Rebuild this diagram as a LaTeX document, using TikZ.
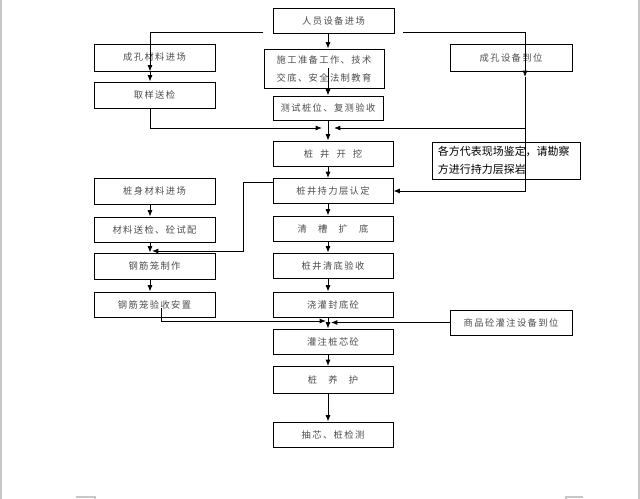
\documentclass[tikz,border=0pt]{standalone}
\usepackage{fontspec}
\newfontfamily\cjk[LetterSpace=15]{Noto Sans CJK SC}
\newfontfamily\cjkplain{Noto Sans CJK SC}
\usetikzlibrary{arrows.meta,calc}

\begin{document}
\begin{tikzpicture}[x=0.025cm, y=-0.025cm,
  box/.style={draw, line width=0.65pt, minimum width=3cm, minimum height=0.625cm,
    inner sep=0pt, font=\cjk\fontsize{6.6}{12.8}\selectfont, text=black!70},
  flow/.style={line width=0.55pt, -{Latex[length=4.5pt,width=3.5pt]}},
  link/.style={line width=0.55pt},
  pageedge/.style={black!22, line width=0.8pt}]

% --- Parameters (pixel grid of the page) ---
\def\xl{150}   % left column line
\def\xm{328}   % main column line
\def\xr{525}   % right column line

\useasboundingbox (0,0) rectangle (640,499);

% --- Page edges ---
\draw[pageedge] (1,0) -- (1,499);
\draw[pageedge] (639,0) -- (639,499);
\draw[pageedge] (76,497) -- (95,497) -- (95,499);
\draw[pageedge] (583,497) -- (566,497) -- (566,499);

% --- Main column ---
\node[box, minimum width=3.025cm] (top) at (333.5,20.5) {人员设备进场};
\node[box, minimum height=0.975cm, align=center] (prep) at (324,68.5)
  {施工准备工作、技术\\交底、安全法制教育};
\node[box, minimum width=2.75cm, minimum height=0.6cm] (ceshi) at (328,108) {测试桩位、复测验收};
\node[box] (kaiwa)   at (333,153.5) {桩\hspace{5pt}井\hspace{5pt}开\hspace{5pt}挖};
\node[box] (chili)   at (333,191)   {桩井持力层认定};
\node[box] (qingcao) at (333,228.5) {清\hspace{8pt}槽\hspace{8pt}扩\hspace{8pt}底};
\node[box] (yanshou) at (333,265.5) {桩井清底验收};
\node[box] (fengdi)  at (333,304.5) {浇灌封底砼};
\node[box] (guanzhu) at (333,341.5) {灌注桩芯砼};
\node[box, minimum height=0.675cm] (yanghu) at (333,380) {桩\hspace{8pt}养\hspace{8pt}护};
\node[box] (jiance)  at (333,434.5) {抽芯、桩检测};

% --- Left column ---
\node[box, minimum width=3.025cm, minimum height=0.675cm] (cl1) at (154.5,57.5) {成孔材料进场};
\node[box, minimum width=3.025cm, minimum height=0.65cm]  (qy)  at (154.5,95)   {取样送检};
\node[box, minimum width=3.025cm, minimum height=0.65cm]  (zs)  at (154.5,191)  {桩身材料进场};
\node[box, minimum width=3.025cm] (sj) at (154.5,229.5) {材料送检、砼试配};
\node[box, minimum width=3.025cm, minimum height=0.65cm]  (gj)  at (154.5,266)  {钢筋笼制作};
\node[box, minimum width=3.025cm] (gy) at (154.5,304.5) {钢筋笼验收安置};

% --- Right column ---
\node[box, minimum width=3.05cm, minimum height=0.675cm] (sb) at (511,57.5) {成孔设备到位};
\node[box, minimum width=3.7cm, minimum height=0.925cm, text width=3.4cm, align=left,
  font=\cjkplain\fontsize{7.8}{12.6}\selectfont, text=black] (gf) at (506,160.5)
  {各方代表现场鉴定，请勘察\\方进行持力层探岩};
\node[box, minimum width=3.05cm] (sp) at (511,322.5) {商品砼灌注设备到位};

% --- Helper points ---
\coordinate (lx) at (\xl,0);
\coordinate (ax) at (\xm,0);
\coordinate (rx) at (\xr,0);
\coordinate (lt) at (\xl,32);
\coordinate (lg) at (263,32);
\coordinate (rg) at (403,32);
\coordinate (rt) at (\xr,32);
\coordinate (sbtip) at (\xr,77);
\coordinate (ml) at (322,128);
\coordinate (mr) at (334,128);
\coordinate (gjtip) at (152,251);
\coordinate (gys) at (161,308);
\coordinate (bl) at (326,321);
\coordinate (br) at (331,321);
\coordinate (cw) at ($(chili.west)+(0,-9)$);

% --- Top distribution ---
\draw[link] (lt) -- (lg);
\draw[link] (rg) -- (rt);
\draw[flow] (top.south -| ax) -- (prep.north -| ax);
\draw[flow] (prep.center -| ax) -- (ceshi.north -| ax);
\draw[flow] (ceshi.south -| ax) -- (kaiwa.north -| ax);

% --- Left branch ---
\draw[flow] (lt) -- (cl1.south -| lx);
\draw[flow] (cl1.south -| lx) -- (qy.north -| lx);
\draw[flow] (qy.south -| lx) |- (ml);

% --- Right branch ---
\draw[flow] (rt) -- (sbtip);
\draw[flow] (sbtip) |- (mr);
\draw[flow] (sbtip) |- (chili.east);

% --- Main chain ---
\foreach \a/\b in {kaiwa/chili, chili/qingcao, qingcao/yanshou, yanshou/fengdi,
                   fengdi/guanzhu, guanzhu/yanghu, yanghu/jiance}
  \draw[flow] (\a.south -| ax) -- (\b.north -| ax);

% --- Pile body materials ---
\foreach \a/\b in {zs/sj, sj/gj, gj/gy}
  \draw[flow] (\a.south -| lx) -- (\b.north -| lx);
\draw[flow] (cw) -- ++(-29,0) |- (gjtip);
\draw[flow] (gys) |- (bl);
\draw[flow] (sp.west) -- (sp.west -| br);

\end{tikzpicture}
\end{document}
